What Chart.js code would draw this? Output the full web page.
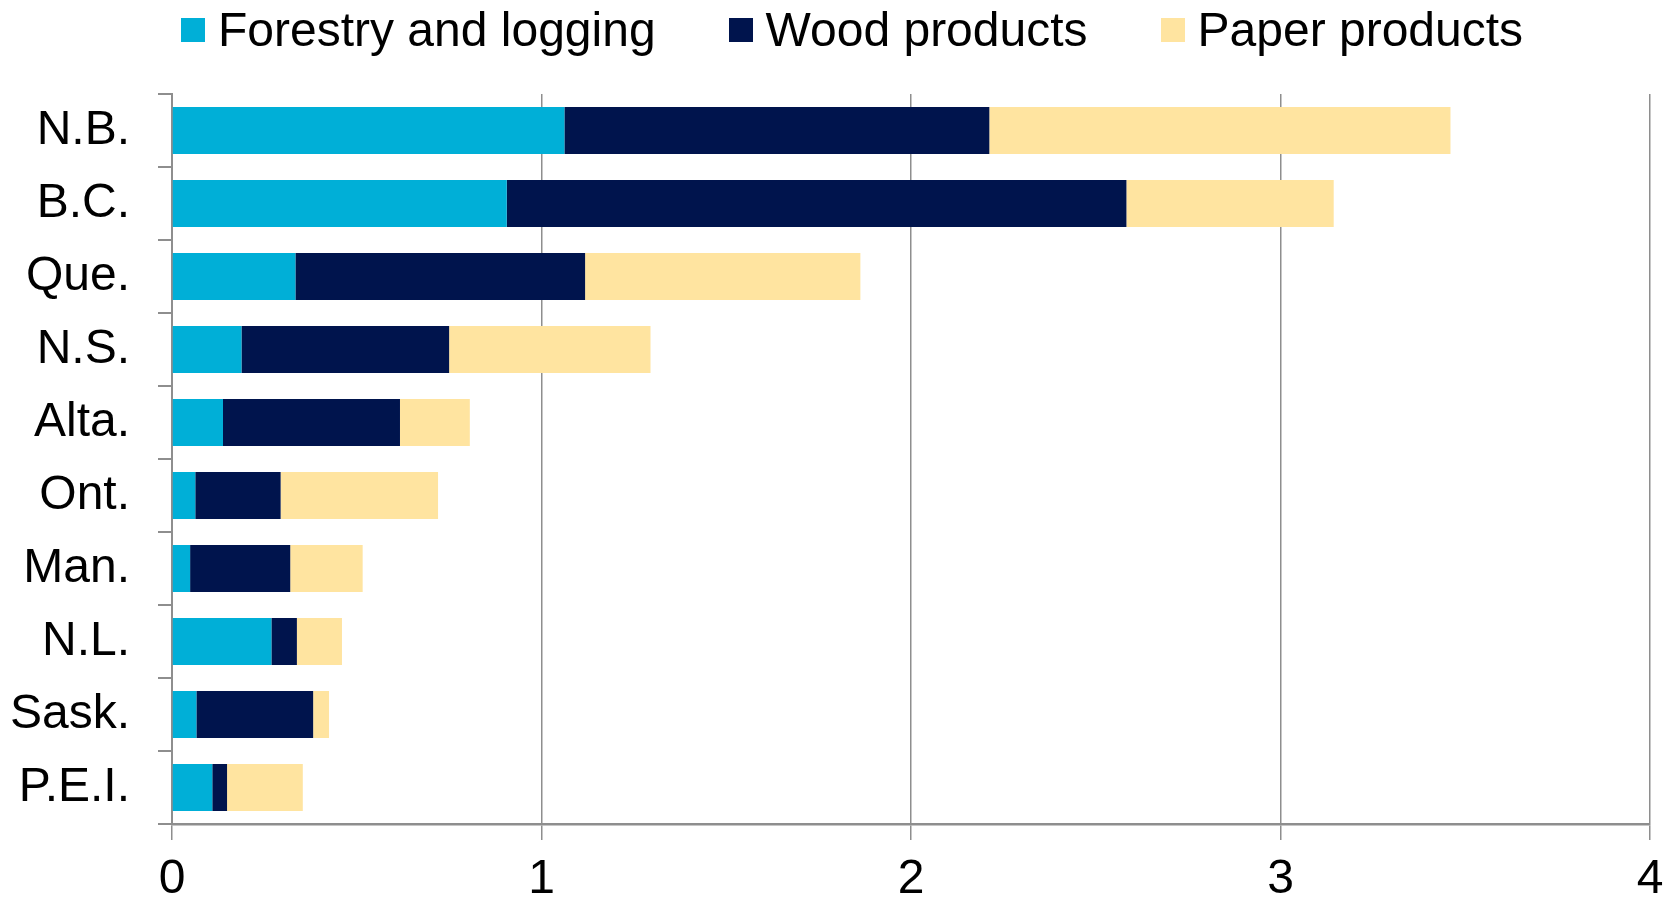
<!DOCTYPE html>
<html>
<head>
    <title>Forestry GDP share by province</title>
    <script src="https://cdn.jsdelivr.net/npm/chart.js"></script>
    <style>
        body { margin: 0; background: #fff; }
        #wrap { position: relative; width: 1673px; height: 899px; }
        #legend {
            position: absolute; top: 6px; left: 181px;
            display: flex; align-items: center;
            font-family: "Liberation Sans", Arial, sans-serif; font-size: 48px; line-height: 48px; color: #000;
        }
        .item { display: flex; align-items: center; margin-right: 73px; white-space: nowrap; }
        .box { width: 24px; height: 24px; margin-right: 13px; }
        canvas { position: absolute; top: 0; left: 0; }
    </style>
</head>
<body>
    <div id="wrap">
        <canvas id="myChart" width="1673" height="899"></canvas>
        <div id="legend"></div>
    </div>

    <script>
        // provinces, top to bottom
        const provinces = ['N.B.', 'B.C.', 'Que.', 'N.S.', 'Alta.', 'Ont.', 'Man.', 'N.L.', 'Sask.', 'P.E.I.'];

        // per province
        const forestry = [1.062, 0.906, 0.334, 0.188, 0.138, 0.063, 0.049, 0.269, 0.066, 0.109];
        const wood     = [1.150, 1.677, 0.784, 0.562, 0.479, 0.231, 0.271, 0.069, 0.316, 0.040];
        const paper    = [1.248, 0.561, 0.745, 0.545, 0.189, 0.426, 0.196, 0.122, 0.043, 0.205];

        const seriesNames = ['Forestry and logging', 'Wood products', 'Paper products'];
        const seriesColors = ['#00AFD7', '#00144D', '#FFE4A0'];
        const xTicks = [0, 1, 2, 3, 4];

        const axisGrey = '#8e8e8e';
        const font = { family: '"Liberation Sans", Arial, sans-serif', size: 48 };

        // legend (html, same order as datasets)
        const legend = document.getElementById('legend');
        seriesNames.forEach((name, i) => {
            const item = document.createElement('div');
            item.className = 'item';
            const box = document.createElement('div');
            box.className = 'box';
            box.style.background = seriesColors[i];
            item.appendChild(box);
            item.appendChild(document.createTextNode(name));
            legend.appendChild(item);
        });

        const values = [forestry, wood, paper];
        const datasets = values.map((v, i) => ({
            label: seriesNames[i],
            data: v,
            backgroundColor: seriesColors[i],
            borderWidth: 0,
            categoryPercentage: 1,
            barPercentage: 0.644
        }));

        var ctx = document.getElementById('myChart').getContext('2d');
        var myChart = new Chart(ctx, {
            type: 'bar',
            data: { labels: provinces, datasets: datasets },
            options: {
                indexAxis: 'y',
                responsive: false,
                animation: false,
                layout: { padding: { top: 94, right: 23, bottom: 0, left: 0 } },
                plugins: {
                    legend: { display: false },
                    tooltip: { enabled: false }
                },
                scales: {
                    x: {
                        stacked: true,
                        min: 0,
                        max: 4,
                        afterBuildTicks: s => { s.ticks = xTicks.map(v => ({ value: v })); },
                        afterFit: s => { s.height = 75; s.paddingLeft = 0; s.paddingRight = 0; },
                        grid: { color: axisGrey, lineWidth: 1.5, tickLength: 16, drawTicks: true },
                        border: { display: true, color: axisGrey, width: 2.5 },
                        ticks: { color: '#000', font: font, padding: 11, maxRotation: 0 }
                    },
                    y: {
                        stacked: true,
                        afterFit: s => { s.width = 172; },
                        grid: { drawOnChartArea: false, color: axisGrey, lineWidth: 2, tickLength: 14, offset: true },
                        border: { display: true, color: axisGrey, width: 2 },
                        ticks: { color: '#000', font: font, padding: 28 }
                    }
                }
            }
        });
    </script>
</body>
</html>
